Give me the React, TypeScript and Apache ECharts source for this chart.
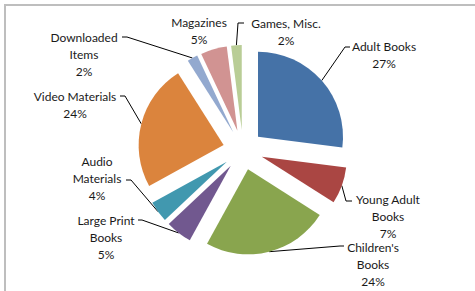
import React, { useEffect, useRef } from "react";
import * as echarts from "echarts";

const categories = [
  "Adult Books",
  "Young Adult Books",
  "Children's Books",
  "Large Print Books",
  "Audio Materials",
  "Video Materials",
  "Downloaded Items",
  "Magazines",
  "Games, Misc.",
];
const shares = [27, 7, 24, 5, 4, 24, 2, 5, 2];
const wrappedNames = [
  "Adult Books",
  "Young Adult\nBooks",
  "Children's\nBooks",
  "Large Print\nBooks",
  "Audio\nMaterials",
  "Video Materials",
  "Downloaded\nItems",
  "Magazines",
  "Games, Misc.",
];
const colors = ["#4572A7", "#AA4643", "#89A54E", "#71588F", "#4198AF", "#DB843D", "#93A9CF", "#D19392", "#B9CD96"];

// layout constants (label centre x, first-line centre y, leader elbow points)
const CENTER = [243, 150];
const RADIUS = 85;
const OFFSET = 20;
const LINE_H = 17;
const labelSpots: { x: number; y: number; line: number[][] | null }[] = [
  { x: 384, y: 46, line: [[345, 47], [350, 47]] },
  { x: 388, y: 199, line: [[346, 201], [352, 201]] },
  { x: 373, y: 247, line: [[340, 246], [344, 246]] },
  { x: 106, y: 220, line: [[142, 220], [138, 220]] },
  { x: 97, y: 161, line: [[131, 180], [126, 180]] },
  { x: 75, y: 96, line: [[125, 96], [120, 96]] },
  { x: 84, y: 37, line: [[127, 37], [122, 37]] },
  { x: 199, y: 22, line: null },
  { x: 286, y: 23, line: [[238, 23], [244, 23]] },
];

export default function App() {
  const ref = useRef<HTMLDivElement>(null);
  useEffect(() => {
    if (!ref.current) return;
    const chart = echarts.init(ref.current, undefined, { renderer: "svg" });
    const total = shares.reduce((a, b) => a + b, 0);
    const mids: number[] = [];
    let acc = 0;
    shares.forEach((v) => {
      mids.push(((acc + v / 2) / total) * Math.PI * 2);
      acc += v;
    });
    chart.setOption({
      animation: false,
      graphic: [
        {
          type: "rect",
          shape: { x: 5, y: 5, width: 800, height: 600 },
          style: { fill: "none", stroke: "#BEBEBE", lineWidth: 2 },
          silent: true,
        },
      ],
      series: [
        {
          type: "pie",
          center: CENTER,
          radius: RADIUS,
          startAngle: 90,
          clockwise: true,
          selectedMode: "multiple",
          selectedOffset: OFFSET,
          emphasis: { disabled: true },
          itemStyle: { borderWidth: 0 },
          label: { show: false },
          labelLine: { show: false },
          data: categories.map((name, i) => ({
            name,
            value: shares[i],
            selected: true,
            itemStyle: { color: colors[i] },
          })),
        },
        {
          type: "pie",
          center: CENTER,
          radius: RADIUS,
          startAngle: 90,
          clockwise: true,
          silent: true,
          selectedMode: false,
          emphasis: { disabled: true },
          itemStyle: { color: "rgba(0,0,0,0)", borderWidth: 0 },
          label: {
            show: true,
            position: "outside",
            fontFamily: "Lato",
            fontSize: 12,
            lineHeight: LINE_H,
            color: "#1a1a1a",
            align: "center",
            formatter: (p: any) => `${wrappedNames[p.dataIndex]}\n${p.value}%`,
          },
          labelLine: { show: true, lineStyle: { color: "#000", width: 1 } },
          labelLayout: (p: any) => {
            const i = p.dataIndex;
            const s = labelSpots[i];
            const a = mids[i];
            const d = OFFSET + RADIUS;
            const start = [CENTER[0] + d * Math.sin(a), CENTER[1] - d * Math.cos(a)];
            const res: any = {
              x: s.x,
              y: s.y - LINE_H / 2,
              align: "center",
              verticalAlign: "top",
            };
            if (s.line) res.labelLinePoints = [start, s.line[0], s.line[1]];
            return res;
          },
          data: categories.map((name, i) => ({
            name,
            value: shares[i],
            labelLine: { show: labelSpots[i].line !== null },
          })),
        },
      ],
    });
    return () => chart.dispose();
  }, []);
  return <div ref={ref} style={{ position: "absolute", left: 0, top: 0, width: 475, height: 291 }} />;
}
